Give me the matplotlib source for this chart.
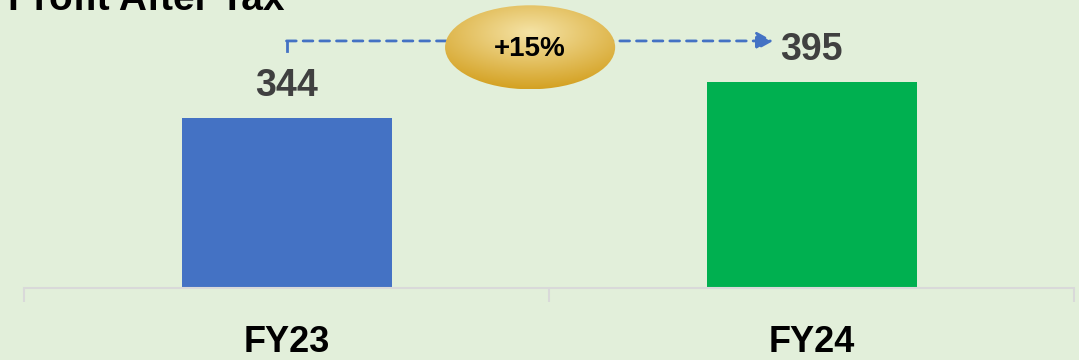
import numpy as np
import matplotlib
matplotlib.use("Agg")
import matplotlib.pyplot as plt
from matplotlib.patches import Ellipse

categories = ["FY23", "FY24"]
values = [344, 395]
bar_colors = ["#4472C4", "#00B050"]
growth_label = "+15%"
title = "Profit After Tax"

BG = "#E2EFDA"
FONT = ["Liberation Sans", "DejaVu Sans"]

fig = plt.figure(figsize=(10.79, 3.6), dpi=100, facecolor=BG)
ax = fig.add_axes([24 / 1079, 0.2, 1050 / 1079, 0.8])
ax.set_facecolor(BG)

x = np.arange(len(categories))
bars = ax.bar(x, values, width=0.4, color=bar_colors, zorder=2)
ax.set_xlim(-0.5, 1.5)
ax.set_ylim(103, 511)

for s in ["top", "right", "left"]:
    ax.spines[s].set_visible(False)
ax.spines["bottom"].set_color("#D9D9D9")
ax.spines["bottom"].set_linewidth(1.5)
ax.set_yticks([])
ax.set_xticks(x)
ax.set_xticklabels(categories, fontsize=26, fontweight="bold", family=FONT, color="black")
ax.tick_params(axis="x", which="major", length=0, pad=27)
ax.set_xticks([-0.5, 0.5, 1.5], minor=True)
ax.tick_params(axis="x", which="minor", length=10, width=1.5, color="#D9D9D9")

ax.bar_label(bars, labels=[str(v) for v in values], padding=10, fontsize=27,
             fontweight="bold", family=FONT, color="#404040")

# dashed connector with arrow
y_line = 453
ax.plot([0, 0], [y_line - 14, y_line], color="#4472C4", lw=2, zorder=3)
ax.annotate("", xy=(0.927, y_line), xytext=(0, y_line),
            arrowprops=dict(arrowstyle="-|>,head_length=1.0,head_width=0.55",
                            color="#4472C4", lw=2, linestyle=(0, (3.5, 2.5)),
                            shrinkA=0, shrinkB=0), zorder=3)

# gold ellipse with gradient
cx, cy = 0.464, 444
w, h = 0.324, 119
ell = Ellipse((cx, cy), w, h, facecolor="none", edgecolor="none", zorder=4)
ax.add_patch(ell)
gx = np.linspace(-1, 1, 200)
gy = np.linspace(-1, 1, 200)
GX, GY = np.meshgrid(gx, gy)
r = np.sqrt(GX ** 2 + ((GY - 0.35) * 1.1) ** 2)
r = np.clip(r / 1.5, 0, 1)
c_in = np.array([0.96, 0.89, 0.65])
c_out = np.array([0.83, 0.63, 0.13])
img = c_in[None, None, :] * (1 - r[..., None]) + c_out[None, None, :] * r[..., None]
im = ax.imshow(img, extent=(cx - w / 2, cx + w / 2, cy - h / 2, cy + h / 2),
               origin="lower", aspect="auto", zorder=4)
im.set_clip_path(ell)
ax.text(cx, cy - 2, growth_label, ha="center", va="center", fontsize=20,
        fontweight="bold", family=FONT, color="black", zorder=5)

fig.text(8 / 1079, 1 - 10 / 360, title, ha="left", va="baseline", fontsize=28,
         fontweight="bold", family=FONT, color="black")

fig.savefig("out.png", dpi=100, facecolor=BG)
